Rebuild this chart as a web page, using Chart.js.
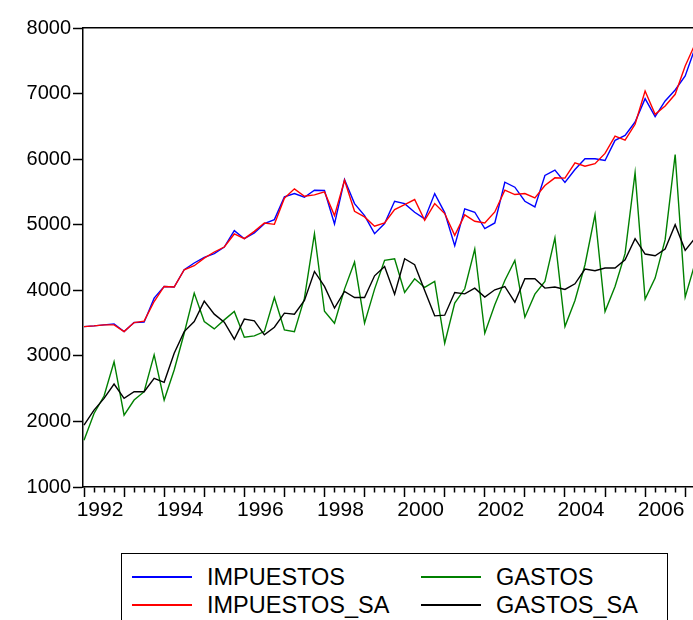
<!DOCTYPE html>
<html>
<head>
<meta charset="utf-8">
<script src="https://cdn.jsdelivr.net/npm/chart.js@4.4.1/dist/chart.umd.min.js"></script>
<style>
  body { margin: 0; background: #fff; overflow: hidden; }
  #wrap { position: relative; width: 693px; height: 620px; overflow: hidden; }
  #chart { position: absolute; left: 0; top: 0; }
  #legend {
    position: absolute; left: 121px; top: 553px; width: 547px; height: 70px;
    border: 1px solid #000; box-sizing: border-box;
    font-family: "Liberation Sans", Arial, sans-serif; font-size: 23.5px; color: #000;
  }
  .item { position: absolute; height: 26px; line-height: 26px; display: flex; align-items: center; white-space: nowrap; }
  .swatch { display: inline-block; width: 60px; height: 1.5px; margin-right: 15px; }
</style>
</head>
<body>
<div id="wrap">
  <canvas id="chart" width="693" height="540"></canvas>
  <div id="legend"></div>
</div>
<script>
// Quarterly observations, first one is 1992Q1
const yearLabels = ['1992', '1994', '1996', '1998', '2000', '2002', '2004', '2006'];

const impuestos = [
    3446, 3457, 3472, 3488, 3370, 3508, 3514, 3880, 4058, 4049, 4313, 4416,
    4502, 4558, 4660, 4910, 4787, 4875, 5016, 5078, 5425, 5476, 5419, 5526,
    5521, 5012, 5689, 5322, 5139, 4864, 5017, 5358, 5322, 5190, 5088, 5475,
    5185, 4680, 5241, 5190, 4940, 5027, 5648, 5572, 5358, 5272, 5751, 5832,
    5645, 5842, 6006, 6006, 5980, 6286, 6362, 6566, 6923, 6648, 6887, 7055,
    7269, 7700
];
const impuestosSA = [
    3446, 3457, 3472, 3472, 3370, 3508, 3529, 3829, 4058, 4049, 4313, 4375,
    4490, 4584, 4660, 4859, 4787, 4899, 5027, 5006, 5404, 5547, 5434, 5455,
    5501, 5139, 5679, 5205, 5119, 4976, 5027, 5231, 5307, 5384, 5067, 5322,
    5170, 4838, 5150, 5052, 5027, 5195, 5526, 5460, 5475, 5410, 5597, 5715,
    5710, 5945, 5893, 5930, 6087, 6352, 6291, 6531, 7040, 6683, 6811, 6989,
    7422, 7760
];
const gastos = [
    1714, 2122, 2387, 2911, 2096, 2326, 2453, 3014, 2326, 2784, 3345, 3957,
    3523, 3411, 3549, 3676, 3284, 3304, 3370, 3890, 3396, 3370, 3880, 4864,
    3680, 3498, 4018, 4431, 3498, 4018, 4456, 4481, 3966, 4176, 4043, 4135,
    3192, 3804, 4023, 4630, 3345, 3778, 4150, 4456, 3590, 3941, 4135, 4798,
    3446, 3844, 4390, 5154, 3676, 4058, 4558, 5792, 3865, 4186, 4772, 6071,
    3896, 4420
];
const gastosSA = [
    1943, 2173, 2352, 2570, 2352, 2453, 2453, 2657, 2596, 3040, 3370, 3523,
    3835, 3636, 3514, 3254, 3560, 3533, 3320, 3437, 3651, 3636, 3844, 4287,
    4060, 3728, 3982, 3890, 3890, 4221, 4364, 3941, 4481, 4390, 3997, 3610,
    3620, 3966, 3946, 4033, 3896, 4008, 4058, 3819, 4176, 4176, 4033, 4049,
    4013, 4099, 4324, 4298, 4339, 4339, 4466, 4787, 4553, 4527, 4630, 5001,
    4609, 4800
];

const toPoints = arr => arr.map((v, i) => ({ x: i, y: v }));

function series(label, values, color, order) {
    return {
        label: label,
        data: toPoints(values),
        borderColor: color,
        backgroundColor: color,
        borderWidth: 1.4,
        pointRadius: 0,
        tension: 0,
        fill: false,
        order: order
    };
}

const fontFamily = '"Liberation Sans", Arial, sans-serif';

const chart = new Chart(document.getElementById('chart'), {
    type: 'line',
    data: {
        datasets: [
            series('IMPUESTOS', impuestos, '#0000ff', 1),
            series('GASTOS', gastos, '#008000', 1),
            series('IMPUESTOS_SA', impuestosSA, '#ff0000', 0),
            series('GASTOS_SA', gastosSA, '#000000', 0)
        ]
    },
    options: {
        responsive: false,
        animation: false,
        devicePixelRatio: 1,
        layout: { padding: 0 },
        plugins: {
            legend: { display: false },
            tooltip: { enabled: false }
        },
        scales: {
            x: {
                type: 'linear',
                position: 'bottom',
                min: -0.1,
                max: 60.78,
                afterBuildTicks: scale => {
                    const ticks = [];
                    for (let i = 0; i <= 60; i++) ticks.push({ value: i });
                    scale.ticks = ticks;
                },
                afterFit: scale => {
                    scale.height = 53;
                    scale.paddingLeft = 0;
                    scale.paddingRight = 0;
                },
                ticks: {
                    autoSkip: false,
                    maxRotation: 0,
                    labelOffset: 16,
                    padding: 1,
                    color: '#000',
                    font: { family: fontFamily, size: 21 },
                    callback: value => (value % 8 === 0 ? yearLabels[value / 8] : '')
                },
                grid: {
                    drawOnChartArea: false,
                    tickLength: 10,
                    tickColor: '#000',
                    tickWidth: 1.5,
                    tickBorderDash: ctx => (ctx.index % 4 === 0 ? [] : [5, 20])
                },
                border: { color: '#000', width: 1.5 }
            },
            x2: {
                type: 'linear',
                position: 'top',
                min: -0.1,
                max: 60.78,
                afterFit: scale => {
                    scale.height = 28;
                    scale.paddingLeft = 0;
                    scale.paddingRight = 0;
                },
                ticks: { display: false },
                grid: { display: false, drawTicks: false },
                border: { display: true, color: '#000', width: 1.5 }
            },
            y: {
                type: 'linear',
                position: 'left',
                min: 1000,
                max: 8000,
                afterFit: scale => { scale.width = 83; },
                ticks: {
                    stepSize: 1000,
                    padding: 2,
                    color: '#000',
                    font: { family: fontFamily, size: 20 },
                    callback: value => String(value)
                },
                grid: {
                    drawOnChartArea: false,
                    tickLength: 10,
                    tickColor: '#000',
                    tickWidth: 1.5
                },
                border: { color: '#000', width: 1.5 }
            }
        }
    }
});

// Legend in EViews style: two columns inside a framed box
const legendPos = {
    'IMPUESTOS': [10, 10],
    'IMPUESTOS_SA': [10, 38],
    'GASTOS': [299, 10],
    'GASTOS_SA': [299, 38]
};
const legendEl = document.getElementById('legend');
chart.data.datasets.forEach(ds => {
    const item = document.createElement('div');
    item.className = 'item';
    item.style.left = legendPos[ds.label][0] + 'px';
    item.style.top = legendPos[ds.label][1] + 'px';
    const sw = document.createElement('span');
    sw.className = 'swatch';
    sw.style.backgroundColor = ds.borderColor;
    const txt = document.createElement('span');
    txt.textContent = ds.label;
    item.appendChild(sw);
    item.appendChild(txt);
    legendEl.appendChild(item);
});
</script>
</body>
</html>
